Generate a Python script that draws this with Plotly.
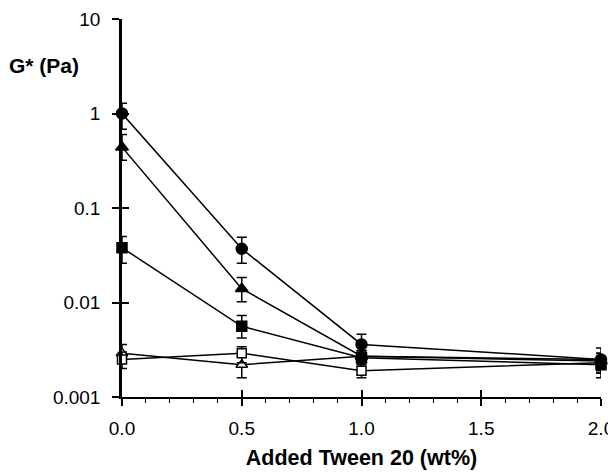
import plotly.graph_objects as go

tween = [0.0, 0.5, 1.0, 2.0]

circle_filled = [1.0, 0.037, 0.0036, 0.0025]
circle_filled_up = [0.28, 0.012, 0.001, 0.0008]
circle_filled_dn = [0.32, 0.011, 0.0008, 0.0007]

triangle_filled = [0.44, 0.014, 0.0027, 0.0024]
triangle_filled_up = [0.16, 0.0044, 0.0004, 0.0005]
triangle_filled_dn = [0.12, 0.0038, 0.0004, 0.0005]

square_filled = [0.038, 0.0056, 0.0026, 0.0022]
square_filled_up = [0.012, 0.0017, 0.0004, 0.0005]
square_filled_dn = [0.012, 0.0014, 0.0004, 0.0006]

triangle_open = [0.0029, 0.0022, 0.0027, 0.0025]
triangle_open_up = [0.0007, 0.0005, 0.0004, 0.0004]
triangle_open_dn = [0.0006, 0.0006, 0.0004, 0.0004]

square_open = [0.0025, 0.0029, 0.0019, 0.0023]
square_open_up = [0.0005, 0.0005, 0.0004, 0.0004]
square_open_dn = [0.0005, 0.0006, 0.0003, 0.0005]

series = [
    (triangle_open, triangle_open_up, triangle_open_dn, "triangle-up", "white", 10),
    (square_open, square_open_up, square_open_dn, "square", "white", 9),
    (square_filled, square_filled_up, square_filled_dn, "square", "black", 10),
    (triangle_filled, triangle_filled_up, triangle_filled_dn, "triangle-up", "black", 11),
    (circle_filled, circle_filled_up, circle_filled_dn, "circle", "black", 11),
]

fig = go.Figure()
for vals, up, dn, sym, fill, sz in series:
    fig.add_trace(go.Scatter(
        x=tween, y=vals, mode="lines+markers",
        line=dict(color="black", width=1.5),
        marker=dict(symbol=sym, size=sz, color=fill,
                    line=dict(color="black", width=1.5)),
        error_y=dict(type="data", symmetric=False, array=up, arrayminus=dn,
                     color="black", thickness=1.5, width=5),
        cliponaxis=False, showlegend=False,
    ))

# invisible trace to establish overlay axes (for crossing ticks)
fig.add_trace(go.Scatter(x=[0], y=[0.01], xaxis="x2", yaxis="y2",
                         mode="markers", marker=dict(opacity=0), showlegend=False,
                         hoverinfo="skip"))

font = dict(family="Liberation Sans, Arial, sans-serif", size=19, color="black")

# page body has an 8px default margin, so the figure is sized to 608x464
fig.update_layout(
    width=608, height=464,
    margin=dict(l=114, r=15, t=11, b=75),
    paper_bgcolor="white", plot_bgcolor="white",
    font=font,
    xaxis=dict(range=[0, 2], tickvals=[0, 0.5, 1.0, 1.5, 2.0],
               ticktext=["0.0", "0.5", "1.0", "1.5", "2.0"],
               ticks="outside", ticklen=7, tickwidth=1.5, tickcolor="black",
               minor=dict(dtick=0.1, ticks="outside", ticklen=4, tickwidth=1.2, tickcolor="black"),
               showline=True, linecolor="black", linewidth=2, showgrid=False, zeroline=False,
               ticklabelstandoff=6, automargin=False,
               title=dict(text="<b>Added Tween 20 (wt%)</b>", font=dict(size=21.5), standoff=12)),
    yaxis=dict(type="log", range=[-3, 1], tickvals=[0.001, 0.01, 0.1, 1, 10],
               ticktext=["0.001", "0.01", "0.1", "1", "10"],
               ticks="outside", ticklen=7, tickwidth=1.5, tickcolor="black",
               showline=True, linecolor="black", linewidth=2.5, showgrid=False, zeroline=False,
               ticklabelstandoff=8, automargin=False),
    xaxis2=dict(overlaying="x", range=[0, 2], tickvals=[0, 0.5, 1.0, 1.5, 2.0],
                ticks="inside", ticklen=7, tickwidth=1.5, tickcolor="black",
                showticklabels=False, showline=False, showgrid=False, zeroline=False,
                anchor="y2", side="bottom", automargin=False),
    yaxis2=dict(overlaying="y", type="log", range=[-3, 1], tickvals=[0.001, 0.01, 0.1, 1, 10],
                ticks="inside", ticklen=7, tickwidth=1.5, tickcolor="black",
                showticklabels=False, showline=False, showgrid=False, zeroline=False,
                anchor="x2", side="left", automargin=False),
    annotations=[dict(text="<b>G* (Pa)</b>", xref="paper", yref="paper",
                      x=(81 - 122) / 479, y=1 + (19 - 66) / 378, xanchor="right", yanchor="middle",
                      showarrow=False, font=dict(size=21))],
)

fig.write_html("out.html")
